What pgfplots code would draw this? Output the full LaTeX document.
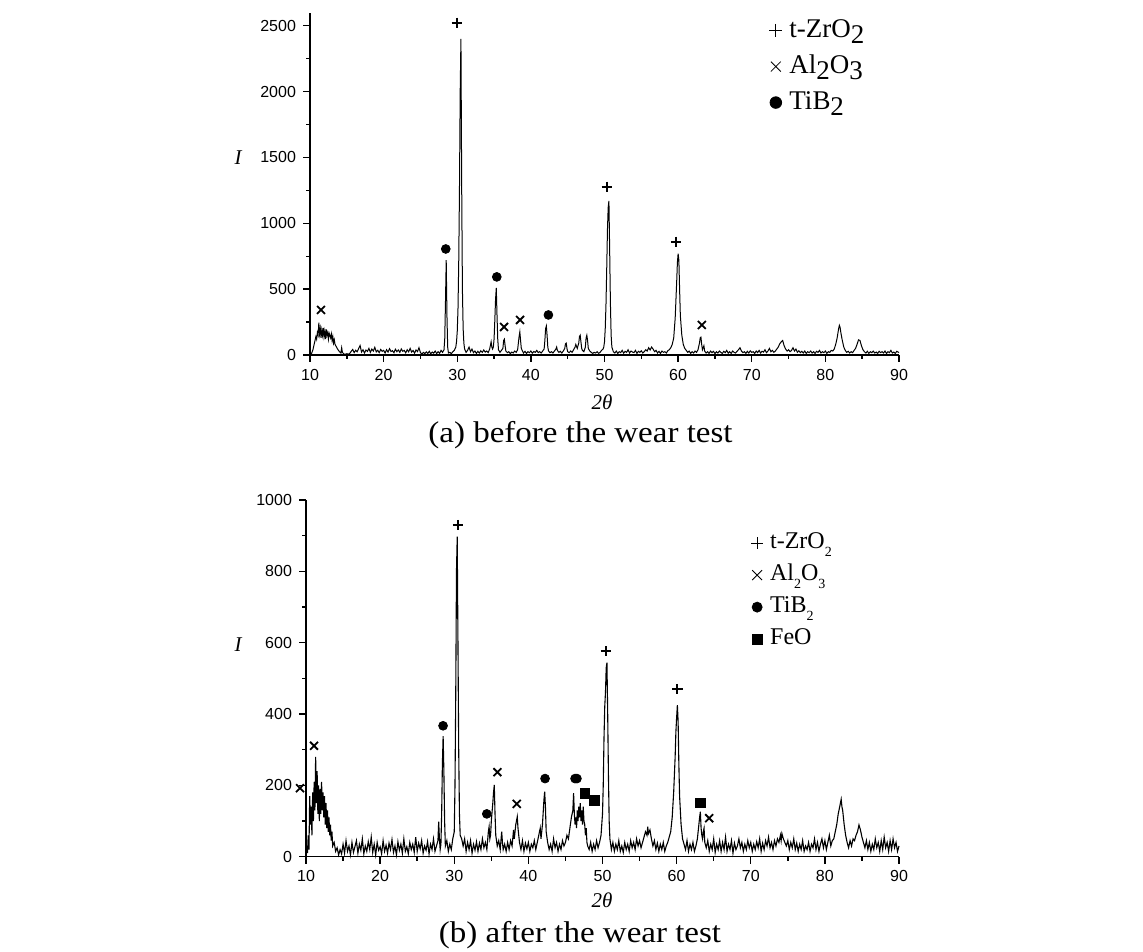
\documentclass[border=0pt]{standalone}
\usepackage{fontspec}
\setmainfont{Liberation Serif}
\newfontfamily\sansf{Liberation Sans}
\usepackage{graphicx}
\usepackage{pgfplots}
\pgfplotsset{compat=1.18}
\pgfplotsset{xrd/.style={
 scale only axis, xmin=10, xmax=90, ymin=0,
 axis x line*=bottom, axis y line*=left,
 every non boxed x axis/.append style={x axis line style=-},
 every non boxed y axis/.append style={y axis line style=-},
 axis line style={line width=0.8pt},
 xtick={10,20,...,90}, minor x tick num=1, minor y tick num=1,
 tick align=outside, major tick length=3.5pt, minor tick length=2pt,
 every tick/.style={black, line width=0.7pt},
 tick label style={font=\sansf\fontsize{8}{9}\selectfont},
 /pgf/number format/assume math mode=true,
 /pgf/number format/1000 sep={},
 scaled ticks=false,
 clip=false,
 legend cell align=left,
 legend image code/.code={\draw[mark repeat=2,mark phase=2,##1] plot coordinates {(0pt,0pt) (4pt,0pt) (8pt,0pt)};},
}}
\begin{document}
\begin{tikzpicture}
\path[use as bounding box] (0,0) rectangle (571.5pt,475.5pt);
% ---------------- (a) ----------------
\begin{axis}[xrd, at={(155pt,298pt)}, anchor=south west, width=294.5pt, height=171.2pt,
 ymax=2600, ytick={0,500,...,2500},
 legend style={draw=none, fill=none, inner sep=0pt, at={(0.779,0.991)}, anchor=north west,
   font=\fontsize{13.5}{16}\selectfont, row sep=3.5pt,
   nodes={text height=9.5pt, text depth=3pt, inner sep=1pt},
   /tikz/every odd column/.append style={column sep=2.5pt}}]
\addplot[black, line width=0.5pt, mark=none, forget plot] coordinates {
(10,5)(10.2,10)(10.4,40)(10.6,90)(10.8,140)(10.9,120)(11,170)(11.1,150)(11.2,245)(11.3,160)(11.4,200)(11.5,130)(11.6,190)(11.7,150)(11.8,205)(11.9,140)(12,180)(12.1,120)(12.2,195)(12.3,150)(12.4,170)(12.5,120)(12.6,165)(12.8,130)(12.9,160)(13,110)(13.1,140)(13.2,90)(13.3,115)(13.4,80)(13.6,60)(13.8,40)(14,25)(14.2,15)(14.3,55)(14.4,20)(14.6,8)(14.8,5)(15,10)(15.2,6)(15.4,12)
(15.6,28)(15.8,42)(16,18)(16.2,36)(16.4,25)(16.6,48)(16.8,72)(17,22)(17.2,40)(17.4,15)(17.6,38)(17.8,27)(18,50)(18.2,20)(18.4,45)(18.6,30)(18.8,58)(19,24)(19.2,36)(19.4,18)(19.6,42)(19.8,28)(20,35)(20.2,15)(20.4,40)(20.6,22)(20.8,48)(21,26)(21.2,33)(21.4,17)(21.6,44)(21.8,25)(22,38)(22.2,20)(22.4,46)(22.6,28)(22.8,35)(23,16)(23.2,40)(23.4,24)(23.6,50)(23.8,22)(24,34)(24.2,14)(24.4,38)(24.6,26)(24.8,55)(25,18)(25.2,8)(25.4,20)(25.6,10)(25.8,24)(26,12)(26.2,28)(26.4,9)(26.6,22)(26.8,14)(27,30)(27.2,11)(27.4,25)(27.6,13)(27.8,35)(28,20)(28.2,40)(28.3,120)(28.4,400)(28.5,720)(28.6,300)(28.7,60)(28.8,15)(29,20)(29.2,10)(29.4,25)(29.6,35)
(29.8,60)(29.9,100)(30,180)(30.1,350)(30.2,700)(30.3,1250)(30.4,2000)(30.5,2400)(30.6,1300)(30.7,500)(30.8,200)(30.9,90)(31,45)(31.2,20)(31.4,35)(31.6,60)(31.8,25)(32,45)(32.2,18)(32.4,30)(32.6,12)(32.8,28)(33,15)(33.2,32)(33.4,20)(33.6,38)(33.8,22)(34,30)(34.2,18)(34.4,45)(34.6,100)(34.7,60)(34.8,45)(34.9,60)(35,120)(35.1,260)(35.2,420)(35.3,510)(35.4,300)(35.5,120)(35.6,40)(35.8,20)(36,35)(36.2,50)(36.3,110)(36.4,120)(36.5,70)(36.6,30)(36.8,18)(37,25)(37.2,10)(37.4,22)(37.6,15)(37.8,30)(38,20)(38.2,40)(38.4,140)(38.5,175)(38.6,110)(38.7,50)(38.9,25)(39,15)(39.2,28)(39.4,12)(39.6,25)(39.8,18)(40,30)(40.2,14)(40.4,26)(40.6,20)(40.8,35)(41,18)(41.2,25)(41.4,15)(41.6,30)(41.8,45)(41.9,110)(42,200)(42.1,220)(42.2,150)(42.3,60)(42.4,30)(42.6,18)(42.8,25)(43,15)(43.2,30)(43.4,45)(43.5,60)(43.6,35)(43.8,20)(44,28)(44.2,15)(44.4,30)(44.6,50)(44.7,85)(44.8,90)(44.9,50)(45,25)(45.2,18)(45.4,30)(45.6,20)(45.8,40)(46,60)(46.1,80)(46.2,65)(46.3,50)(46.5,90)(46.6,140)(46.7,150)(46.8,100)(46.9,50)(47,35)(47.2,25)(47.4,60)(47.5,130)(47.6,150)(47.7,110)(47.8,50)(48,30)(48.2,20)(48.4,12)(48.6,20)(48.8,15)(49,25)(49.2,12)(49.4,20)(49.6,35)(49.8,45)
(49.9,60)(50,100)(50.1,200)(50.2,380)(50.3,650)(50.4,950)(50.5,1120)(50.6,1170)(50.7,800)(50.8,400)(50.9,150)(51,60)(51.2,25)(51.4,15)(51.6,30)(51.8,12)(52,25)(52.2,18)(52.4,35)(52.6,14)(52.8,28)(53,20)(53.2,40)(53.4,15)(53.6,30)(53.8,22)(54,18)(54.2,35)(54.4,12)(54.6,28)(54.8,20)(55,32)(55.2,15)(55.4,25)(55.6,40)(55.8,30)(56,55)(56.2,38)(56.4,60)(56.6,45)(56.8,25)(57,35)(57.2,15)(57.4,28)(57.6,12)(57.8,30)(58,20)(58.2,25)(58.4,15)(58.6,32)(58.8,40)(59,55)(59.2,80)(59.4,130)(59.6,280)(59.8,550)(59.9,700)(60,770)(60.1,720)(60.2,500)(60.3,300)(60.5,150)(60.7,80)(60.9,50)(61.1,35)(61.3,20)(61.5,30)(61.7,12)(61.9,25)(62.1,15)(62.3,30)(62.5,20)(62.7,40)(62.9,90)(63,130)(63.1,135)(63.2,80)(63.3,40)(63.5,70)(63.6,30)(63.8,15)(64,25)(64.2,12)(64.4,30)(64.6,18)(64.8,28)(65,10)(65.2,25)(65.4,15)(65.6,30)(65.8,20)(66,12)(66.2,28)(66.4,18)(66.6,35)(66.8,14)(67,25)(67.2,12)(67.4,30)(67.6,20)(67.8,15)(68,28)(68.2,40)(68.4,55)(68.6,30)(68.8,18)(69,25)(69.2,12)(69.4,28)(69.6,15)(69.8,32)(70,20)
(70.2,25)(70.4,12)(70.6,30)(70.8,18)(71,35)(71.2,15)(71.4,28)(71.6,22)(71.8,40)(72,18)(72.2,30)(72.4,50)(72.6,25)(72.8,35)(73,20)(73.2,30)(73.4,45)(73.6,60)(73.8,85)(74,100)(74.2,110)(74.4,70)(74.6,45)(74.8,30)(75,40)(75.2,25)(75.4,35)(75.6,55)(75.8,30)(76,45)(76.2,20)(76.4,32)(76.6,18)(76.8,28)(77,15)(77.2,30)(77.4,12)(77.6,25)(77.8,18)(78,30)(78.2,15)(78.4,25)(78.6,12)(78.8,28)(79,20)(79.2,35)(79.4,15)(79.6,25)(79.8,18)(80,30)(80.2,12)(80.4,25)(80.6,20)(80.8,35)(81,30)(81.2,45)(81.4,80)(81.6,130)(81.8,200)(81.9,225)(82,210)(82.1,170)(82.3,110)(82.5,60)(82.7,35)(82.9,20)(83.1,28)(83.3,15)(83.5,25)(83.7,18)(83.9,35)(84.1,50)(84.3,80)(84.5,115)(84.7,110)(84.9,70)(85.1,40)(85.3,25)(85.5,15)(85.7,28)(85.9,12)(86.1,25)(86.3,18)(86.5,30)(86.7,15)(86.9,22)(87.1,12)(87.3,28)(87.5,18)(87.7,25)(87.9,15)(88.1,30)(88.3,12)(88.5,25)(88.7,18)(88.9,35)(89.1,15)(89.3,22)(89.5,12)(89.7,28)(90,18)};
\addplot[only marks, mark=+, mark size=2.6pt, line width=1pt, forget plot] coordinates {(29.93,2523)(50.31,1277)(59.73,859)};
\addplot[only marks, mark=x, mark size=2.8pt, line width=0.9pt, forget plot] coordinates {(11.49,342)(36.36,213)(38.53,266)(63.22,228)};
\addplot[only marks, mark=*, mark size=2.2pt, forget plot] coordinates {(28.44,805)(35.37,593)(42.38,304)};
\addlegendimage{only marks, mark=+, mark size=3.3pt, line width=0.4pt}
\addlegendentry{t-ZrO\raisebox{-0.55ex}{2}}
\addlegendimage{only marks, mark=x, mark size=3.5pt, line width=0.4pt}
\addlegendentry{Al\raisebox{-0.55ex}{2}O\raisebox{-0.55ex}{3}}
\addlegendimage{only marks, mark=*, mark size=2.9pt}
\addlegendentry{TiB\raisebox{-0.55ex}{2}}
\end{axis}
% ---------------- (b) ----------------
\begin{axis}[xrd, at={(153pt,47.15pt)}, anchor=south west, width=296.5pt, height=178.35pt,
 ymax=1000, ytick={0,200,...,1000},
 legend style={draw=none, fill=none, inner sep=0pt, at={(0.750,0.918)}, anchor=north west,
   font=\fontsize{12}{14}\selectfont, row sep=2.5pt,
   nodes={text height=8.5pt, text depth=3pt, inner sep=1pt},
   /tikz/every odd column/.append style={column sep=2.5pt}}]
\addplot[black, line width=0.55pt, mark=none, forget plot] coordinates {
(10,0)(10.1,30)(10.2,10)(10.3,60)(10.4,20)(10.5,170)(10.6,90)(10.7,140)(10.8,60)(10.9,180)(11,100)(11.1,210)(11.2,130)(11.3,280)(11.4,150)(11.5,240)(11.6,120)(11.7,200)(11.8,100)(11.9,190)(12,120)(12.1,210)(12.2,130)(12.3,180)(12.4,110)(12.5,170)(12.6,90)(12.7,150)(12.8,80)(12.9,130)(13,70)(13.1,110)(13.2,60)(13.3,90)(13.4,45)(13.5,70)(13.6,30)(13.8,40)(14,15)(14.2,25)(14.4,5)(14.6,20)(14.8,8)(15,35)(15.2,10)(15.4,45)(15.6,15)(15.8,30)(16,5)(16.2,40)(16.4,12)(16.6,28)(16.8,45)(17,10)(17.2,35)(17.4,18)(17.6,50)(17.8,8)(18,30)(18.2,15)(18.4,42)(18.6,20)(18.8,55)(19,12)(19.2,35)(19.4,5)(19.6,40)(19.8,18)(20,28)(20.2,8)(20.4,45)(20.6,15)(20.8,32)(21,10)(21.2,38)(21.4,20)(21.6,48)(21.8,12)(22,30)(22.2,5)(22.4,42)(22.6,18)(22.8,35)(23,10)(23.2,50)(23.4,15)(23.6,28)(23.8,8)(24,40)(24.2,20)(24.4,35)(24.6,12)(24.8,55)(25,15)(25.2,38)(25.4,22)(25.6,45)(25.8,10)(26,30)(26.2,18)(26.4,42)(26.6,8)(26.8,35)(27,20)(27.2,50)(27.4,15)(27.6,30)(27.8,45)(27.9,98)(28,50)(28.1,20)(28.2,35)(28.3,120)(28.4,260)(28.5,338)(28.6,240)(28.7,100)(28.8,30)(29,45)(29.2,15)(29.4,35)(29.6,20)(29.8,50)
(30,70)(30.1,200)(30.2,450)(30.3,800)(30.4,897)(30.5,600)(30.6,300)(30.7,120)(30.8,60)(31,50)(31.2,30)(31.4,50)(31.6,15)(31.8,40)(32,20)(32.2,45)(32.4,10)(32.6,35)(32.8,18)(33,42)(33.2,15)(33.4,38)(33.6,20)(33.8,50)(34,25)(34.2,40)(34.4,20)(34.6,70)(34.7,84)(34.8,50)(34.9,60)(35,100)(35.2,150)(35.3,180)(35.4,201)(35.5,120)(35.6,60)(35.8,30)(36,45)(36.2,20)(36.4,70)(36.5,40)(36.6,20)(36.8,35)(37,15)(37.2,40)(37.4,20)(37.6,45)(37.8,30)(38,75)(38.1,50)(38.3,90)(38.5,112)(38.6,80)(38.8,40)(39,20)(39.2,45)(39.4,15)(39.6,38)(39.8,22)(40,40)(40.2,15)(40.4,35)(40.6,25)(40.8,45)(41,20)(41.2,40)(41.4,60)(41.6,80)(41.7,50)(41.9,90)(42.1,160)(42.2,182)(42.3,140)(42.4,70)(42.6,40)(42.8,20)(43,35)(43.2,15)(43.4,50)(43.6,25)(43.8,40)(44,15)(44.2,35)(44.4,20)(44.6,45)(44.8,30)(45,40)(45.2,60)(45.4,50)(45.6,80)(45.8,110)(46,130)(46.1,178)(46.2,120)(46.3,90)(46.4,110)(46.5,80)(46.6,130)(46.7,100)(46.8,140)(46.9,110)(47,150)(47.1,100)(47.2,130)(47.3,90)(47.4,140)(47.5,100)(47.6,90)(47.7,60)(47.8,80)(47.9,40)(48,30)(48.2,20)(48.4,40)(48.6,15)(48.8,35)(49,20)(49.2,45)(49.4,25)(49.6,40)(49.8,60)
(50,120)(50.1,200)(50.2,330)(50.3,420)(50.4,460)(50.5,530)(50.6,544)(50.7,400)(50.8,230)(50.9,100)(51,50)(51.2,20)(51.4,40)(51.6,15)(51.8,35)(52,20)(52.2,45)(52.4,15)(52.6,30)(52.8,12)(53,40)(53.2,20)(53.4,35)(53.6,15)(53.8,45)(54,25)(54.2,40)(54.4,20)(54.6,50)(54.8,30)(55,45)(55.2,25)(55.4,40)(55.6,55)(55.8,70)(56,60)(56.1,84)(56.2,65)(56.4,75)(56.6,50)(56.8,30)(57,45)(57.2,20)(57.4,38)(57.6,15)(57.8,35)(58,20)(58.2,40)(58.4,15)(58.6,30)(58.8,40)(59,55)(59.2,70)(59.4,110)(59.6,180)(59.8,280)(59.9,350)(60,390)(60.1,425)(60.2,380)(60.3,260)(60.4,170)(60.6,90)(60.8,50)(61,35)(61.2,20)(61.4,45)(61.6,15)(61.8,35)(62,20)(62.2,40)(62.4,15)(62.6,30)(62.8,50)(63,90)(63.1,110)(63.2,126)(63.3,80)(63.4,60)(63.5,50)(63.6,70)(63.7,80)(63.8,40)(64,25)(64.2,45)(64.4,15)(64.6,35)(64.8,20)(65,50)(65.2,12)(65.4,35)(65.6,20)(65.8,45)(66,15)(66.2,40)(66.4,20)(66.6,55)(66.8,15)(67,35)(67.2,20)(67.4,45)(67.6,10)(67.8,38)(68,20)(68.2,30)(68.4,50)(68.6,25)(68.8,40)(69,15)(69.2,35)(69.4,20)(69.6,45)(69.8,25)
(70,40)(70.2,15)(70.4,35)(70.6,20)(70.8,42)(71,25)(71.2,50)(71.4,15)(71.6,38)(71.8,20)(72,45)(72.2,30)(72.4,55)(72.6,25)(72.8,40)(73,20)(73.2,45)(73.4,30)(73.6,50)(73.8,40)(74,60)(74.1,45)(74.2,65)(74.4,50)(74.6,40)(74.8,30)(75,45)(75.2,20)(75.4,40)(75.6,25)(75.8,50)(76,20)(76.2,38)(76.4,15)(76.6,35)(76.8,20)(77,45)(77.2,15)(77.4,30)(77.6,20)(77.8,40)(78,15)(78.2,35)(78.4,25)(78.6,50)(78.8,20)(79,40)(79.2,15)(79.4,35)(79.6,50)(79.8,25)(80,45)(80.2,20)(80.4,40)(80.6,60)(80.8,30)(81,45)(81.2,50)(81.4,70)(81.6,90)(81.8,120)(82,140)(82.2,161)(82.3,140)(82.4,130)(82.6,90)(82.8,60)(83,40)(83.2,25)(83.4,45)(83.6,30)(83.8,50)(84,45)(84.2,60)(84.4,70)(84.6,89)(84.8,75)(85,55)(85.2,40)(85.4,25)(85.6,45)(85.8,20)(86,40)(86.2,15)(86.4,35)(86.6,20)(86.8,50)(87,25)(87.2,40)(87.4,15)(87.6,45)(87.8,20)(88,55)(88.2,25)(88.4,40)(88.6,15)(88.8,45)(89,20)(89.2,50)(89.4,25)(89.6,40)(89.8,15)(90,30)};
\addplot[only marks, mark=+, mark size=2.6pt, line width=1pt, forget plot] coordinates {(30.51,930)(50.45,576)(60.11,470)};
\addplot[only marks, mark=x, mark size=2.8pt, line width=0.9pt, forget plot] coordinates {(11.08,311)(9.19,192)(35.82,237)(38.43,148)(64.39,108)};
\addplot[only marks, mark=*, mark size=2.2pt, forget plot] coordinates {(28.49,367)(34.39,120)(42.25,219)(46.3,219)(46.55,219)};
\addplot[only marks, mark=square*, mark size=2.4pt, forget plot] coordinates {(47.65,178)(48.87,157)(63.17,151)};
\addlegendimage{only marks, mark=+, mark size=3pt, line width=0.4pt}
\addlegendentry{t-ZrO\raisebox{-0.7ex}{\scriptsize 2}}
\addlegendimage{only marks, mark=x, mark size=3.5pt, line width=0.4pt}
\addlegendentry{Al\raisebox{-0.7ex}{\scriptsize 2}O\raisebox{-0.7ex}{\scriptsize 3}}
\addlegendimage{only marks, mark=*, mark size=2.5pt}
\addlegendentry{TiB\raisebox{-0.7ex}{\scriptsize 2}}
\addlegendimage{only marks, mark=square*, mark size=2.5pt}
\addlegendentry{FeO}
\end{axis}
% labels
\node[font=\fontsize{10.5}{12}\selectfont\itshape] at (119pt,396.5pt) {I};
\node[font=\fontsize{10.5}{12}\selectfont\itshape] at (119pt,153pt) {I};
\node[font=\fontsize{10.5}{12}\selectfont\itshape] at (301pt,274.5pt) {2θ};
\node[font=\fontsize{10.5}{12}\selectfont\itshape] at (301pt,25.5pt) {2θ};
\node[font=\fontsize{15}{18}\selectfont] at (290.25pt,258pt) {\scalebox{1.1}[1]{(a) before the wear test}};
\node[font=\fontsize{15}{18}\selectfont] at (290pt,8pt) {\scalebox{1.1}[1]{(b) after the wear test}};
\end{tikzpicture}
\end{document}
